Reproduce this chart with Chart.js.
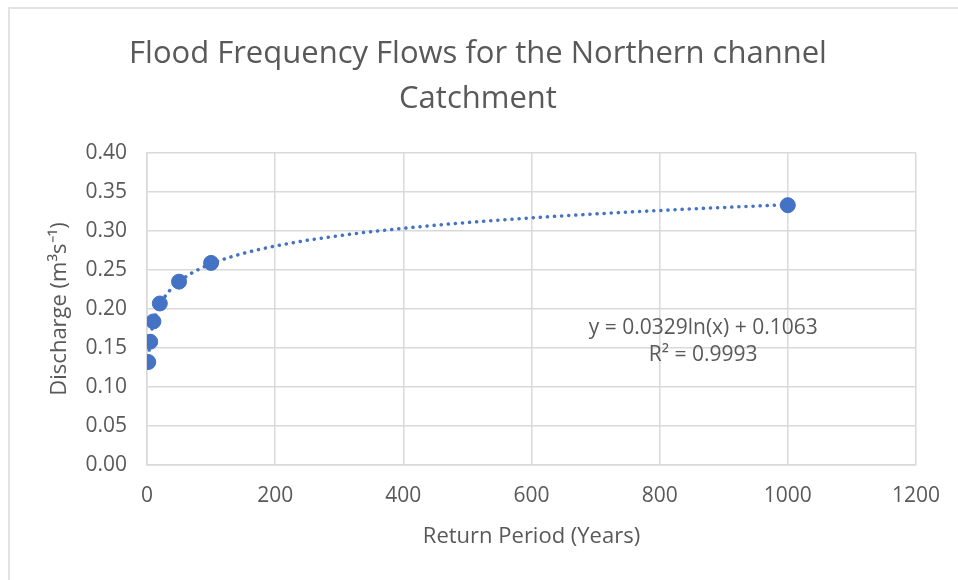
<!DOCTYPE html>
<html>
<head>
<meta charset="utf-8">
<script src="https://cdn.jsdelivr.net/npm/chart.js@4"></script>
<style>
  body { margin: 0; background: #fff; }
  #wrap { position: relative; width: 958px; height: 580px; }
  #frame { position: absolute; left: 8px; top: 7px; width: 960px; height: 590px; border: 2px solid #e3e3e3; box-sizing: border-box; }
  canvas { position: absolute; left: 0; top: 0; }
</style>
</head>
<body>
<div id="wrap">
  <div id="frame"></div>
  <canvas id="chart" width="958" height="580"></canvas>
</div>
<script>
// return periods (years) and peak discharge (m3/s)
const returnPeriods = [2, 5, 10, 20, 50, 100, 1000];
const discharge = [0.132, 0.158, 0.184, 0.207, 0.235, 0.259, 0.333];

// log trendline from the chart label: y = a ln(x) + b
const trendA = 0.0329;
const trendB = 0.1063;
const trendLabel = ['y = 0.0329ln(x) + 0.1063', 'R\u00b2 = 0.9993'];

const trendX = [];
for (let x = 2; x <= 1000; x += (x < 20 ? 1 : x < 200 ? 5 : 20)) trendX.push(x);
const trendPts = trendX.map(x => ({x: x, y: trendA * Math.log(x) + trendB}));

const blue = '#4472c4';
const grey = '#595959';
const font = "'Open Sans', sans-serif";

// equation text placed in data coordinates
const eqLabel = {
  id: 'eqLabel',
  afterDatasetsDraw(chart) {
    const c = chart.ctx;
    const xs = chart.scales.x, ys = chart.scales.y;
    c.save();
    c.fillStyle = grey;
    c.font = '21px ' + font;
    c.textAlign = 'center';
    c.textBaseline = 'middle';
    c.fillText(trendLabel[0], xs.getPixelForValue(868), ys.getPixelForValue(0.176));
    c.fillText(trendLabel[1], xs.getPixelForValue(868), ys.getPixelForValue(0.141));
    c.restore();
  }
};

new Chart(document.getElementById('chart'), {
  type: 'scatter',
  data: {
    datasets: [
      {
        label: 'Trend',
        data: trendPts,
        showLine: true,
        borderColor: blue,
        borderWidth: 3.5,
        borderDash: [0.1, 7],
        borderCapStyle: 'round',
        pointRadius: 0,
        fill: false
      },
      {
        label: 'Discharge',
        data: returnPeriods.map((x, i) => ({x: x, y: discharge[i]})),
        backgroundColor: blue,
        borderColor: blue,
        pointRadius: 7.5,
        pointHoverRadius: 7.5
      }
    ]
  },
  options: {
    responsive: false,
    animation: false,
    layout: { padding: { left: 40, right: 42, top: 0, bottom: 0 } },
    plugins: {
      legend: { display: false },
      tooltip: { enabled: false },
      title: {
        display: true,
        text: ['Flood Frequency Flows for the Northern channel', 'Catchment'],
        color: grey,
        font: { family: font, size: 31, weight: 'normal', lineHeight: 1.45 },
        padding: { top: 32, bottom: 31 }
      }
    },
    scales: {
      x: {
        type: 'linear',
        min: 0, max: 1200,
        ticks: { stepSize: 200, color: grey, font: { family: font, size: 21 }, padding: 18,
                 callback: v => String(v) },
        grid: { color: '#d9d9d9', lineWidth: 1.5, drawTicks: false },
        border: { color: '#d9d9d9', width: 1.5 },
        title: { display: true, text: 'Return Period (Years)', color: grey,
                 font: { family: font, size: 22 }, padding: { bottom: 30 } },
        afterFit(s) { s.height = 115; }
      },
      y: {
        min: 0, max: 0.4,
        ticks: { stepSize: 0.05, color: grey, font: { family: font, size: 21 }, padding: 20,
                 callback: v => v.toFixed(2) },
        grid: { color: '#d9d9d9', lineWidth: 1.5, drawTicks: false },
        border: { color: '#d9d9d9', width: 1.5 },
        title: { display: true, text: 'Discharge (m\u00b3s\u207b\u00b9)', color: grey,
                 font: { family: font, size: 22 }, padding: { top: 7 } },
        afterFit(s) { s.width = 107; }
      }
    }
  },
  plugins: [eqLabel]
});
</script>
</body>
</html>
